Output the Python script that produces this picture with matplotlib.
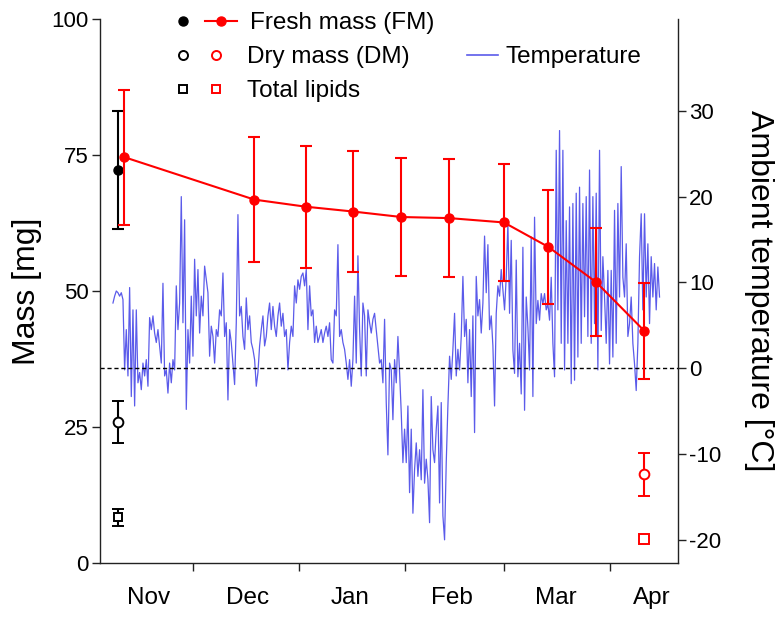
import matplotlib
matplotlib.use('Agg')
import matplotlib.pyplot as plt
import matplotlib.dates as mdates
import matplotlib.ticker as mticker
from matplotlib.lines import Line2D
import numpy as np
import pandas as pd

plt.rcParams['font.family'] = ['Liberation Sans', 'DejaVu Sans']
plt.rcParams['axes.unicode_minus'] = False

# ---------------- data ----------------
# Fresh mass of the sampled group over winter (mean +/- SD, mg)
fm_dates = ['2011-11-11', '2011-12-19', '2012-01-03', '2012-01-17', '2012-01-31',
            '2012-02-14', '2012-03-01', '2012-03-14', '2012-03-28', '2012-04-11']
fm_mean = [74.6, 66.8, 65.5, 64.6, 63.6, 63.4, 62.6, 58.1, 51.6, 42.7]
fm_err = [12.4, 11.5, 11.2, 11.1, 10.8, 10.8, 10.7, 10.5, 9.9, 8.8]

# start-of-winter reference (black)
start_date = '2011-11-09'
start_fm, start_fm_err = 72.2, 10.8
start_dm, start_dm_err = 25.9, 3.9
start_lip, start_lip_err = 8.4, 1.6

# end-of-winter (red open symbols)
end_date = '2012-04-11'
end_dm, end_dm_err = 16.3, 4.0
end_lip = 4.5

# ambient temperature (deg C), logger series sampled ~twice a day
temp_start = '2011-11-07 16:00'
temp_end = '2012-04-15 12:00'
temp_nov = [7.6, 8.4, 9.0, 8.8, 8.4, 8.8, 8.0, -0.2, 4.5, -0.9, 9.4, -3.3, 6.8, -4.4,
            6.8, -1.7, -0.5, -2.5, 0.6, -0.9, 1.0, -2.1, 5.9, 4.5, 6.1, 4.1, 3.0, 4.5,
            2.6, 0.6, 9.9, -0.9, -0.2, -2.9, 0.6, -1.7, 1.0, -0.2, 9.6, 4.5, 7.6, 20.0,
            5.3, 17.3, -4.8, 4.5, 0.6, 8.4, 1.4, 12.7, 6.1, 11.5, 4.1, 8.4, 6.1, 11.9]
temp_dec = [10.3, 8.8, 1.4, 4.9, 3.7, 0.6, 4.5, 3.7, 6.8, 6.1, 11.1, 3.7, 5.3, -3.7,
            4.5, 3.0, 0.6, -1.9, 5.3, 17.9, 6.1, 7.2, 3.7, 2.2, 8.2, 4.5, 6.1, 3.0,
            2.2, 1.0, -2.1, -0.5, 2.6, 4.5, 6.1, 2.6, 3.7, 6.1, 7.6, 4.5, 7.2, 4.9,
            3.7, 6.1, 7.6, 4.9, 6.4, 3.7, 4.5, -0.2, 3.0, 4.9, 3.7, 9.6, 7.6, 10.3,
            9.2, 10.7, 11.1, 9.6]
temp_jan = [11.5, 4.5, 9.6, 6.1, 6.8, 3.0, 4.9, 3.0, 3.7, 4.5, 3.0, 4.1, 4.9, 3.7,
            5.3, 1.0, 0.6, 6.8, 6.1, 14.4, 3.7, 4.5, 3.0, 2.2, 0.6, -1.3, 1.0, -2.1,
            1.0, 8.4, 0.6, 13.1, 4.5, -0.9, 7.6, 6.1, -0.9, 6.8, 5.3, 4.1, 5.7, 6.4,
            4.5, 2.6, 0.6, 1.0, -1.7, 5.7, -4.0, -10.1, 0.6, -0.2, -6.0, 1.0, -1.7,
            3.7, -0.5, -5.2, -11.0, -7.1]
temp_feb = [-11.0, -4.4, -14.5, -7.1, -16.9, -11.8, -8.7, -12.6, -9.5, -13.0, -2.5,
            -13.4, -10.6, -13.0, -18.0, -3.3, -9.5, -11.0, -7.1, -4.4, -15.7, -4.0,
            -17.2, -20.0, -11.0, -4.4, 1.4, -1.3, 2.2, 6.4, -0.9, 2.2, -0.2, 3.7,
            10.7, 3.7, 5.7, -1.7, 4.5, -3.3, 6.1, -7.5, 10.7, 6.1, 8.0, 4.1, 7.6,
            15.4, 8.8, 14.4, 4.5, 6.1, 2.6, -4.4, 6.4, 9.6, 8.4, 11.5, 9.2, 6.8]
temp_mar = [10.6, 16.9, 6.4, 14.9, 2.1, -0.6, 12.6, -1.0, 2.9, -3.0, 14.1, -4.9, 8.3,
            4.8, -0.2, 15.3, -3.3, 17.6, 5.2, 7.9, 5.6, 8.7, 7.5, 8.7, 6.8, 7.5, 5.6,
            10.6, 2.9, -1.0, 25.4, 6.8, 27.7, 2.9, 25.4, -0.2, 17.2, 2.9, 18.8, -1.8,
            19.2, -1.4, 20.4, 1.3, 21.1, 2.9, 19.2, 6.0, 20.0, 3.7, 23.1, 2.9, 20.0,
            5.2, 20.4, -0.2, 25.4, 4.4, 13.0, 8.3]
temp_apr = [2.9, 11.4, 0.5, 11.4, 1.3, 18.4, 2.9, 19.2, 8.3, 23.5, 10.6, 8.3, 14.5,
            3.7, 5.2, 8.3, 2.9, 0.5, -2.6, 2.9, 13.0, 18.0, 6.8, 18.0, 8.3, 14.5, 5.2,
            13.0, 8.3, 12.2, 6.8, 11.8, 8.3]

month_labels = ['Nov', 'Dec', 'Jan', 'Feb', 'Mar', 'Apr']
month_label_pos = ['2011-11-18 00:00', '2011-12-17 00:00', '2012-01-16 02:00',
                   '2012-02-14 22:00', '2012-03-16 07:00', '2012-04-13 05:00']
mass_ticks = [0, 25, 50, 75, 100]
temp_ticks = [-20, -10, 0, 10, 20, 30]

# ---------------- figure ----------------
W, H = 783, 618
fig = plt.figure(figsize=(W / 100, H / 100), dpi=100)
L, R, T, B = 99.5, 678, 19, 563
ax = fig.add_axes([L / W, 1 - B / H, (R - L) / W, (B - T) / H])
ax2 = ax.twinx()
ax.set_zorder(ax2.get_zorder() + 1)
ax.patch.set_visible(False)

temps = temp_nov + temp_dec + temp_jan + temp_feb + temp_mar + temp_apr
t_times = pd.date_range(temp_start, temp_end, periods=len(temps))
temp_color = '#5b5bea'
ax2.plot(t_times, temps, color=temp_color, lw=0.9, zorder=2)
ax2.axhline(0, color='black', lw=1.0, ls=(0, (3, 2)), zorder=3)

red = '#ff0000'
lw = 1.5
cap = 4.5
fd = pd.to_datetime(fm_dates)
ax.errorbar(fd, fm_mean, yerr=fm_err, color=red, lw=lw, marker='o', ms=6.5,
            capsize=cap, capthick=lw, elinewidth=lw, zorder=5)
sd = pd.to_datetime([start_date])
ed = pd.to_datetime([end_date])
ax.errorbar(sd, [start_fm], yerr=[start_fm_err], fmt='o', color='black', ms=6.5,
            capsize=cap, capthick=lw, elinewidth=lw, zorder=4)
ax.errorbar(sd, [start_dm], yerr=[start_dm_err], fmt='o', color='black', mfc='white',
            mec='black', mew=1.4, ms=7, capsize=cap, capthick=lw, elinewidth=lw, zorder=4)
ax.errorbar(sd, [start_lip], yerr=[start_lip_err], fmt='s', color='black', mfc='white',
            mec='black', mew=1.4, ms=6, capsize=cap, capthick=lw, elinewidth=lw, zorder=4)
ax.errorbar(ed, [end_dm], yerr=[end_dm_err], fmt='o', color=red, mfc='white',
            mec=red, mew=1.4, ms=7, capsize=cap, capthick=lw, elinewidth=lw, zorder=4)
ax.plot(ed, [end_lip], 's', mfc='white', mec=red, mew=1.4, ms=6.5, zorder=4)

# axes limits
x0 = pd.Timestamp('2011-11-01') + pd.Timedelta(days=2.73)
x1 = pd.Timestamp('2011-11-01') + pd.Timedelta(days=171.9)
ax.set_xlim(x0, x1)
ax.set_ylim(0, 100)
ax2.set_ylim(-22.7, 40.7)

# spines
for s in ['top', 'right']:
    ax.spines[s].set_visible(False)
for s in ['top', 'left', 'bottom']:
    ax2.spines[s].set_visible(False)
for sp in [ax.spines['left'], ax.spines['bottom'], ax2.spines['right']]:
    sp.set_linewidth(1.0)
    sp.set_color('#222222')

ax.set_yticks(mass_ticks)
ax2.set_yticks(temp_ticks)
ax.tick_params(axis='y', direction='out', length=6, width=1.0, labelsize=16, pad=2,
               color='#222222')
ax2.tick_params(axis='y', direction='out', length=6, width=1.0, labelsize=16, pad=2,
                color='#222222')
ax.xaxis.set_major_locator(mdates.MonthLocator())
ax.xaxis.set_major_formatter(mticker.NullFormatter())
label_nums = mdates.date2num(pd.to_datetime(month_label_pos, format='%Y-%m-%d %H:%M'))
ax.xaxis.set_minor_locator(mticker.FixedLocator(label_nums))
ax.xaxis.set_minor_formatter(mticker.FixedFormatter(month_labels))
ax.tick_params(axis='x', which='major', direction='out', length=6, width=1.0, color='#222222')
ax.tick_params(axis='x', which='minor', length=0, labelsize=17.5, pad=17)

fig.text(27 / W, 1 - 291 / H, 'Mass [mg]', rotation=90, ha='center', va='center',
         fontsize=23)
fig.text(759 / W, 1 - 291 / H, 'Ambient temperature [°C]', rotation=270, ha='center',
         va='center', fontsize=23)

# ---------------- legend (manual layout) ----------------
def fx(px):
    return px / W

def fy(py):
    return 1 - py / H

tf = fig.transFigure
rows = [21, 55, 89]
fig.add_artist(Line2D([fx(183)], [fy(rows[0])], transform=tf, marker='o', ls='none',
                      color='black', ms=6.5))
fig.add_artist(Line2D([fx(205), fx(237)], [fy(rows[0])] * 2, transform=tf, color=red,
                      lw=lw))
fig.add_artist(Line2D([fx(221)], [fy(rows[0])], transform=tf, marker='o', ls='none',
                      color=red, ms=6.5))
fig.add_artist(Line2D([fx(183)], [fy(rows[1])], transform=tf, marker='o', ls='none',
                      mfc='white', mec='black', mew=1.4, ms=6.5))
fig.add_artist(Line2D([fx(216)], [fy(rows[1])], transform=tf, marker='o', ls='none',
                      mfc='white', mec=red, mew=1.4, ms=6.5))
fig.add_artist(Line2D([fx(183)], [fy(rows[2])], transform=tf, marker='s', ls='none',
                      mfc='white', mec='black', mew=1.4, ms=6))
fig.add_artist(Line2D([fx(216)], [fy(rows[2])], transform=tf, marker='s', ls='none',
                      mfc='white', mec=red, mew=1.4, ms=6))
fig.add_artist(Line2D([fx(467), fx(498)], [fy(rows[1])] * 2, transform=tf,
                      color=temp_color, lw=1.2))
fs = 17.5
fig.text(fx(250), fy(rows[0]), 'Fresh mass (FM)', ha='left', va='center_baseline', fontsize=fs)
fig.text(fx(247), fy(rows[1]), 'Dry mass (DM)', ha='left', va='center_baseline', fontsize=fs)
fig.text(fx(247), fy(rows[2]), 'Total lipids', ha='left', va='center_baseline', fontsize=fs)
fig.text(fx(505), fy(rows[1]), 'Temperature', ha='left', va='center_baseline', fontsize=fs)

fig.savefig('out.png', dpi=100)
